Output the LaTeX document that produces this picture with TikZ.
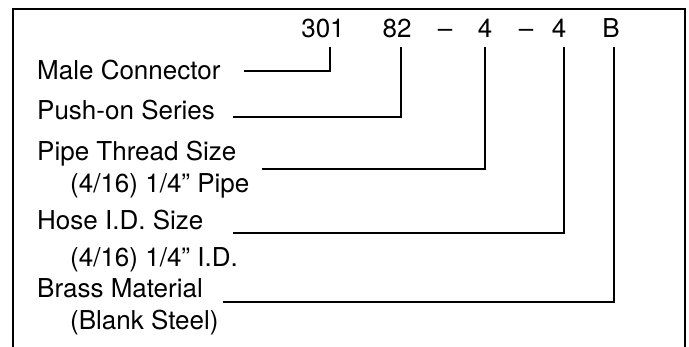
\documentclass[tikz,border=0pt]{standalone}
\usepackage{fontspec}
\setmainfont{TeX Gyre Heros}
\begin{document}
\begin{tikzpicture}[x=1pt,y=-1pt,
  lbl/.style={anchor=base west,inner sep=0pt,font=\fontsize{26}{30}\selectfont},
  code/.style={anchor=base,inner sep=0pt,font=\fontsize{26}{30}\selectfont},
  conn/.style={line width=1.9pt},
  frame/.style={line width=1.9pt}]
\useasboundingbox (0,0) rectangle (689,347);
% frame (open at bottom)
\draw[frame] (13,347) -- (13,9) -- (685,9) -- (685,347);
% part number
\node[code] (c301) at (323,38) {301};
\node[code] (c82)  at (397,38) {82};
\node[code] (d1)   at (445,38) {--};
\node[code] (c4a)  at (485,38) {4};
\node[code] (d2)   at (526,38) {--};
\node[code] (c4b)  at (559,38) {4};
\node[code] (cB)   at (611,38) {B};
% labels
\node[lbl] (male) at (37,80) {Male Connector};
\node[lbl] (push) at (37,120) {Push-on Series};
\node[lbl] (pipe) at (37,161) {Pipe Thread Size};
\node[lbl] (pipes) at (70,193) {(4/16) 1/4" Pipe};
\node[lbl] (hose) at (37,230) {Hose I.D. Size};
\node[lbl] (hoses) at (70,267) {(4/16) 1/4" I.D.};
\node[lbl] (brass) at (37,298) {Brass Material};
\node[lbl] (brasss) at (70,330) {(Blank Steel)};
% connector ends
\coordinate (t301) at (330,47);
\coordinate (e301) at (244,71);
\coordinate (t82) at (401,47);
\coordinate (e82) at (233,117);
\coordinate (t4a) at (485,47);
\coordinate (e4a) at (262,169);
\coordinate (t4b) at (564,47);
\coordinate (e4b) at (233,233);
\coordinate (tB) at (614,47);
\coordinate (eB) at (223,302);
\draw[conn] (t301) |- (e301);
\draw[conn] (t82) |- (e82);
\draw[conn] (t4a) |- (e4a);
\draw[conn] (t4b) |- (e4b);
\draw[conn] (tB) |- (eB);
\end{tikzpicture}
\end{document}
